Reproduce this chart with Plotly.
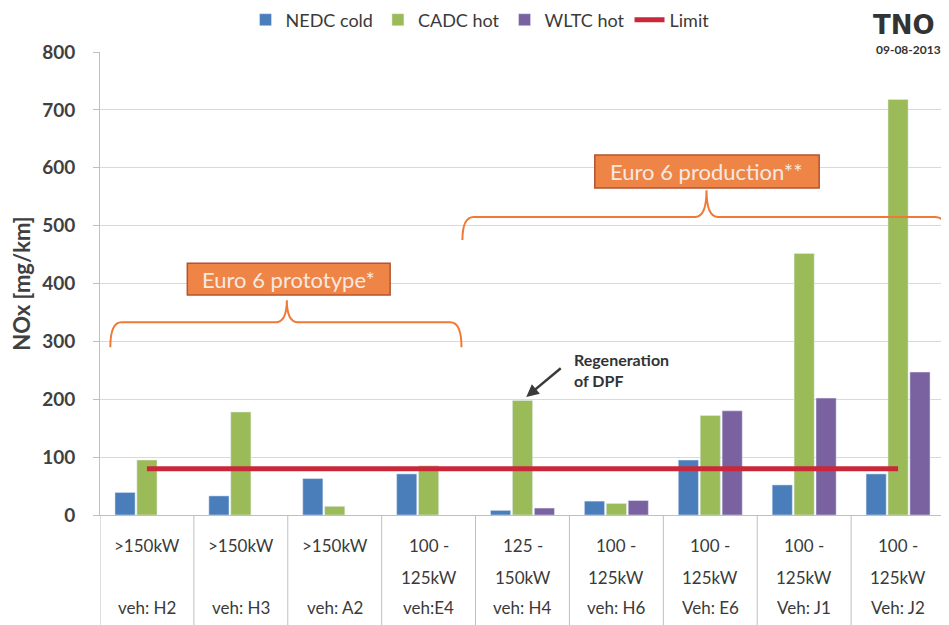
import plotly.graph_objects as go

# ---- data ----
vehicles = ["veh: H2", "veh: H3", "veh: A2", "veh:E4", "veh: H4", "veh: H6", "Veh: E6", "Veh: J1", "Veh: J2"]
power_line1 = [">150kW", ">150kW", ">150kW", "100 -", "125 -", "100 -", "100 -", "100 -", "100 -"]
power_line2 = ["", "", "", "125kW", "150kW", "125kW", "125kW", "125kW", "125kW"]
nedc_cold = [39, 33, 63, 71, 8, 24, 95, 52, 71]
cadc_hot = [95, 178, 15, 85, 198, 20, 172, 452, 718]
wltc_hot = [None, None, None, None, 12, 25, 180, 202, 247]
limit = [80, 80, 80, 80, 80, 80, 80, 80, 80]
y_ticks = [0, 100, 200, 300, 400, 500, 600, 700, 800]

xs = list(range(len(vehicles)))

BLUE = "#4A7EBB"
GREEN = "#9BBB59"
PURPLE = "#7A62A0"
RED = "#C8283A"
ORANGE = "#F07A35"
FONT = "Lato"
TXT = "#3A3A3A"

# page has an 8px body margin: plot area placed so it lands at window x 100-945, y 52-515
W, H = 941, 617
L, T, B = 92, 44, 110
PW = 845
PH = 463


def px_x(p):  # window pixel -> paper x
    return (p - 100) / PW


def px_y(p):  # window pixel -> paper y
    return (515 - p) / PH


fig = go.Figure()
fig.add_trace(go.Bar(x=xs, y=nedc_cold, name="NEDC cold", marker=dict(color=BLUE)))
fig.add_trace(go.Bar(x=xs, y=cadc_hot, name="CADC hot", marker=dict(color=GREEN)))
fig.add_trace(go.Bar(x=xs, y=wltc_hot, name="WLTC hot", marker=dict(color=PURPLE)))
fig.add_trace(go.Scatter(x=xs, y=limit, name="Limit", mode="lines",
                         line=dict(color=RED, width=5)))

shapes = []
annotations = []

# table: vertical separators below the plot
for i in range(len(vehicles) + 1):
    shapes.append(dict(type="line", xref="x", yref="paper", x0=i - 0.5, x1=i - 0.5,
                       y0=0, y1=-B / PH, line=dict(color="#BFBFBF", width=1)))
for i, v in enumerate(vehicles):
    annotations.append(dict(x=i, y=px_y(545), xref="x", yref="paper", text=power_line1[i],
                            xanchor="center", yanchor="middle", showarrow=False,
                            font=dict(family=FONT, size=17, color=TXT)))
    if power_line2[i]:
        annotations.append(dict(x=i, y=px_y(577), xref="x", yref="paper", text=power_line2[i],
                                xanchor="center", yanchor="middle", showarrow=False,
                                font=dict(family=FONT, size=17, color=TXT)))
    annotations.append(dict(x=i, y=px_y(607), xref="x", yref="paper", text=v,
                            xanchor="center", yanchor="middle", showarrow=False,
                            font=dict(family=FONT, size=17, color=TXT)))


def brace(x0, x1, xc, yb, yh, yt):
    dx = 0.12
    return (f"M {x0},{yb} Q {x0},{yh} {x0 + dx},{yh} L {xc - dx},{yh} "
            f"Q {xc},{yh} {xc},{yt} Q {xc},{yh} {xc + dx},{yh} L {x1 - dx},{yh} "
            f"Q {x1},{yh} {x1},{yb}")


# braces
shapes.append(dict(type="path", xref="x", yref="y", path=brace(-0.39, 3.35, 1.49, 290, 333, 371),
                   line=dict(color=ORANGE, width=2)))
shapes.append(dict(type="path", xref="x", yref="y", path=brace(3.36, 8.52, 5.96, 475, 515, 561),
                   line=dict(color=ORANGE, width=2)))
# boxes
shapes.append(dict(type="rect", xref="x", yref="y", x0=0.43, x1=2.59, y0=380, y1=435,
                   fillcolor="#EF8447", line=dict(color="#B5532E", width=1.5)))
shapes.append(dict(type="rect", xref="x", yref="y", x0=4.77, x1=7.16, y0=565, y1=622,
                   fillcolor="#EF8447", line=dict(color="#B5532E", width=1.5)))
annotations.append(dict(x=1.51, y=407, xref="x", yref="y", text="Euro 6 prototype*",
                        xanchor="center", yanchor="middle", showarrow=False,
                        font=dict(family=FONT, size=22, color="#F6E9E0")))
annotations.append(dict(x=5.96, y=593, xref="x", yref="y", text="Euro 6 production**",
                        xanchor="center", yanchor="middle", showarrow=False,
                        font=dict(family=FONT, size=22, color="#F6E9E0")))

# DPF note
annotations.append(dict(x=4.53, y=251, xref="x", yref="y", xanchor="left", yanchor="middle",
                        align="left", text="<b>Regeneration<br>of DPF</b>", showarrow=False,
                        font=dict(family=FONT, size=16, color="#333333")))
annotations.append(dict(x=4.04, y=204, xref="x", yref="y", text="", showarrow=True,
                        ax=36, ay=-30, arrowhead=2, arrowsize=1, arrowwidth=2.5,
                        arrowcolor="#3A3A3A"))

# TNO logo
annotations.append(dict(x=px_x(904), y=px_y(25), xref="paper", yref="paper", text="<b>TNO</b>",
                        xanchor="center", yanchor="middle", showarrow=False,
                        font=dict(family="DejaVu Sans", size=26, color="#333333")))
annotations.append(dict(x=px_x(908), y=px_y(49), xref="paper", yref="paper",
                        text="<b>09-08-2013</b>", xanchor="center", yanchor="middle",
                        showarrow=False, font=dict(family=FONT, size=12, color="#333333")))

fig.update_layout(
    width=W, height=H,
    margin=dict(l=L, r=W - L - PW, t=T, b=B, autoexpand=False),
    paper_bgcolor="white", plot_bgcolor="white",
    barmode="group", bargap=0.3, bargroupgap=0.08,
    showlegend=True,
    legend=dict(orientation="h", x=px_x(480), xanchor="center", y=px_y(20), yanchor="middle",
                font=dict(family=FONT, size=18, color=TXT), itemwidth=30,
                traceorder="normal"),
    xaxis=dict(range=[-0.5, 8.5], showticklabels=False, showgrid=False, zeroline=False,
               showline=True, linecolor="#BFBFBF", ticks=""),
    yaxis=dict(range=[0, 800], tickvals=y_ticks, showgrid=True, gridcolor="#D9D9D9",
               zeroline=False, showline=True, linecolor="#BFBFBF", ticks="outside",
               ticklen=6, tickcolor="#BFBFBF", ticklabelstandoff=14,
               tickfont=dict(family=FONT, size=19, color="#404040", weight="bold"),
               title=dict(text="<b>NOx [mg/km]</b>", standoff=8,
                          font=dict(family=FONT, size=22, color="#404040"))),
    shapes=shapes, annotations=annotations,
)

fig.write_html("out.html")
